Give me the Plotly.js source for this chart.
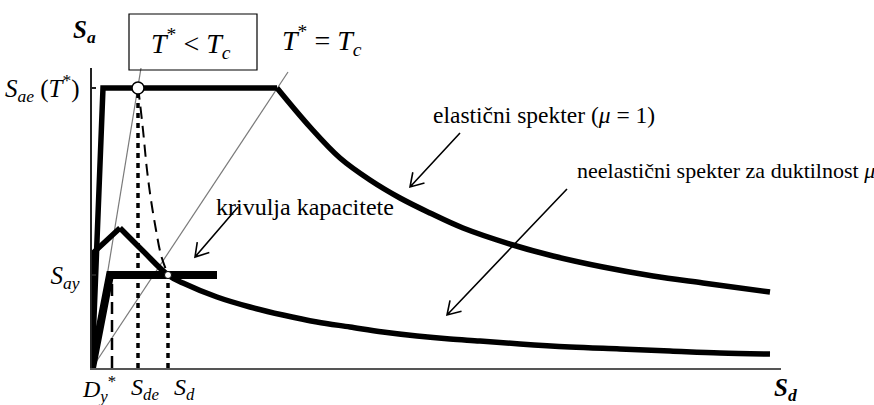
<!DOCTYPE html>
<html>
<head>
<meta charset="utf-8">
<script src="https://cdn.plot.ly/plotly-3.0.1.min.js"></script>
<style>
  html, body { margin: 0; padding: 0; background: #fff; }
  #chart { width: 874px; height: 405px; }
</style>
</head>
<body>
<div id="chart"></div>
<script>
// ADRS diagram (Sa vs Sd) for the N2 method, schematic units.

// Elastic spectrum (mu = 1): rising branch + plateau, then the descending branch
const elasticRampSd = [0, 11, 185];
const elasticRampSa = [0, 280, 280];
const elasticSd = [185, 218, 248, 278, 308, 338, 371, 421, 461, 511, 561, 611, 678];
const elasticSa = [280, 241, 210, 188, 170, 155, 140, 123, 112, 101, 92, 85, 76];

// Inelastic spectrum for ductility mu
const inelasticRampSd = [0, 1, 28];
const inelasticRampSa = [0, 115, 140];
const inelasticSd = [28, 51, 76, 91, 125, 158, 191, 225, 258, 291, 325, 358, 388, 428, 478, 528, 578, 628, 678];
const inelasticSa = [140, 117, 93, 85, 71, 61, 53, 46, 41, 36, 32, 29, 27, 24, 21, 19, 17, 15, 14];

// Idealised bilinear capacity curve
const capacitySd = [0, 18, 125];
const capacitySa = [0, 93, 93];

// Characteristic values
const SaeT = 280;   // Sae(T*)
const Say = 93;     // yield acceleration
const Dy = 20;      // Dy*
const Sde = 46;     // elastic displacement demand
const Sd = 76;      // inelastic displacement demand

// Demand curve from the elastic point down to the target point
const demandSd = [46, 47, 51, 55, 59, 64, 69, 76];
const demandSa = [280, 273, 238, 198, 168, 138, 113, 93];

// Period rays through the origin
const rayShortSd = [0, 49];   // T* < Tc
const rayShortSa = [0, 300];
const rayTcSd = [0, 196];     // T* = Tc
const rayTcSa = [0, 296];

// Y tick labels
const yTickVals = [SaeT, Say];
const yTickText = ['<i>S</i><sub><i>ae</i></sub> (<i>T</i><sup>*</sup>)', '<i>S</i><sub><i>ay</i></sub>'];

const X_MAX = 689, Y_MAX = 300;
const SERIF = '"Liberation Serif", "Times New Roman", Times, serif';

const thin = { color: '#7a7a7a', width: 1.2 };
const traces = [
  { x: rayShortSd, y: rayShortSa, mode: 'lines', line: thin },
  { x: rayTcSd, y: rayTcSa, mode: 'lines', line: thin },
  { x: [Dy, Dy], y: [0, Say], mode: 'lines', line: { color: '#000', width: 2.5, dash: '12px,6px' } },
  { x: [Sde, Sde], y: [0, SaeT - 6], mode: 'lines', line: { color: '#000', width: 3.5, dash: '5px,5px' } },
  { x: [Sd, Sd], y: [0, Say], mode: 'lines', line: { color: '#000', width: 3.5, dash: '5px,5px' } },
  { x: demandSd, y: demandSa, mode: 'lines', line: { color: '#000', width: 2, dash: '12px,7px', shape: 'spline' } },
  { x: elasticRampSd, y: elasticRampSa, mode: 'lines', line: { color: '#000', width: 5.5 } },
  { x: elasticSd, y: elasticSa, mode: 'lines', line: { color: '#000', width: 5.5, shape: 'spline' } },
  { x: inelasticRampSd, y: inelasticRampSa, mode: 'lines', line: { color: '#000', width: 5.5 } },
  { x: inelasticSd, y: inelasticSa, mode: 'lines', line: { color: '#000', width: 5.5, shape: 'spline' } },
  { x: capacitySd, y: capacitySa, mode: 'lines', line: { color: '#000', width: 8 } },
  { x: [Sde], y: [SaeT], mode: 'markers', marker: { size: 12, color: '#fff', line: { color: '#000', width: 1.5 } } },
  { x: [Sd], y: [Say], mode: 'markers', marker: { size: 7, color: '#fff', line: { color: '#000', width: 1 } } }
];
traces.forEach(t => { t.type = 'scatter'; t.hoverinfo = 'skip'; t.showlegend = false; });

// Open "V" arrow drawn as a path (1 data unit = 1 px on both axes)
function arrowPath(x0, y0, x1, y1) {
  const L = 15, ang = 32 * Math.PI / 180;
  const dx = x0 - x1, dy = y0 - y1, n = Math.hypot(dx, dy);
  const ux = dx / n, uy = dy / n;
  const r = s => [x1 + L * (ux * Math.cos(s) - uy * Math.sin(s)), y1 + L * (ux * Math.sin(s) + uy * Math.cos(s))];
  const a = r(ang), b = r(-ang);
  return `M${x0},${y0} L${x1},${y1} M${a[0]},${a[1]} L${x1},${y1} L${b[0]},${b[1]}`;
}
const arrows = [
  [146, 161, 103, 111],
  [368, 235, 318, 181],
  [475, 179, 355, 53]
];
const shapes = arrows.map(a => ({
  type: 'path', xref: 'x', yref: 'y', path: arrowPath(...a),
  line: { color: '#000', width: 1.6 }
}));
shapes.push({
  type: 'rect', xref: 'paper', yref: 'paper',
  x0: 37 / X_MAX, x1: 165 / X_MAX, y0: 298 / Y_MAX, y1: 354 / Y_MAX,
  line: { color: '#000', width: 1.2 }
});

const px = v => v / X_MAX, py = v => v / Y_MAX;
function note(text, x, y, size, anchor) {
  return {
    text, xref: 'paper', yref: 'paper', x: px(x), y: py(y), showarrow: false,
    xanchor: anchor || 'left', yanchor: 'middle',
    font: { family: SERIF, size: size, color: '#000' }
  };
}
const annotations = [
  note('<b><i>S</i></b><sub><b><i>a</i></b></sub>', -8, 336, 25, 'center'),
  note('<b><i>S</i></b><sub><b><i>d</i></b></sub>', 680, -21, 25),
  note('<i>T</i><sup>*</sup> &lt; <i>T</i><sub><i>c</i></sub>', 99, 324, 28, 'center'),
  note('<i>T</i><sup>*</sup> = <i>T</i><sub><i>c</i></sub>', 230, 328, 28, 'center'),
  note('krivulja kapacitete', 122, 161, 24),
  note('elastični spekter (<i>μ</i> = 1)', 339, 253, 23.5),
  note('neelastični spekter za duktilnost <i>μ</i>', 483, 198, 22),
  note('<i>D</i><sub><i>y</i></sub><sup>*</sup>', -12, -21, 24),
  note('<i>S</i><sub><i>de</i></sub>', 37, -21, 24),
  note('<i>S</i><sub><i>d</i></sub>', 80, -21, 24)
];

const layout = {
  width: 874, height: 405,
  margin: { l: 92, r: 93, t: 68, b: 37, pad: 0 },
  paper_bgcolor: '#fff', plot_bgcolor: '#fff',
  font: { family: SERIF, color: '#000' },
  showlegend: false,
  xaxis: {
    range: [0, X_MAX], showgrid: false, zeroline: false, showticklabels: false, ticks: '',
    showline: true, linecolor: '#555', linewidth: 1.5, automargin: false, fixedrange: true
  },
  yaxis: {
    range: [0, Y_MAX], showgrid: false, zeroline: false,
    showline: true, linecolor: '#222', linewidth: 2.5,
    ticks: 'inside', ticklen: 4, tickwidth: 2, tickcolor: '#222',
    tickvals: yTickVals, ticktext: yTickText, ticklabelstandoff: 5,
    tickfont: { family: SERIF, size: 25, color: '#000' },
    automargin: false, fixedrange: true
  },
  shapes, annotations
};

Plotly.newPlot('chart', traces, layout, { staticPlot: true, displayModeBar: false });
</script>
</body>
</html>
